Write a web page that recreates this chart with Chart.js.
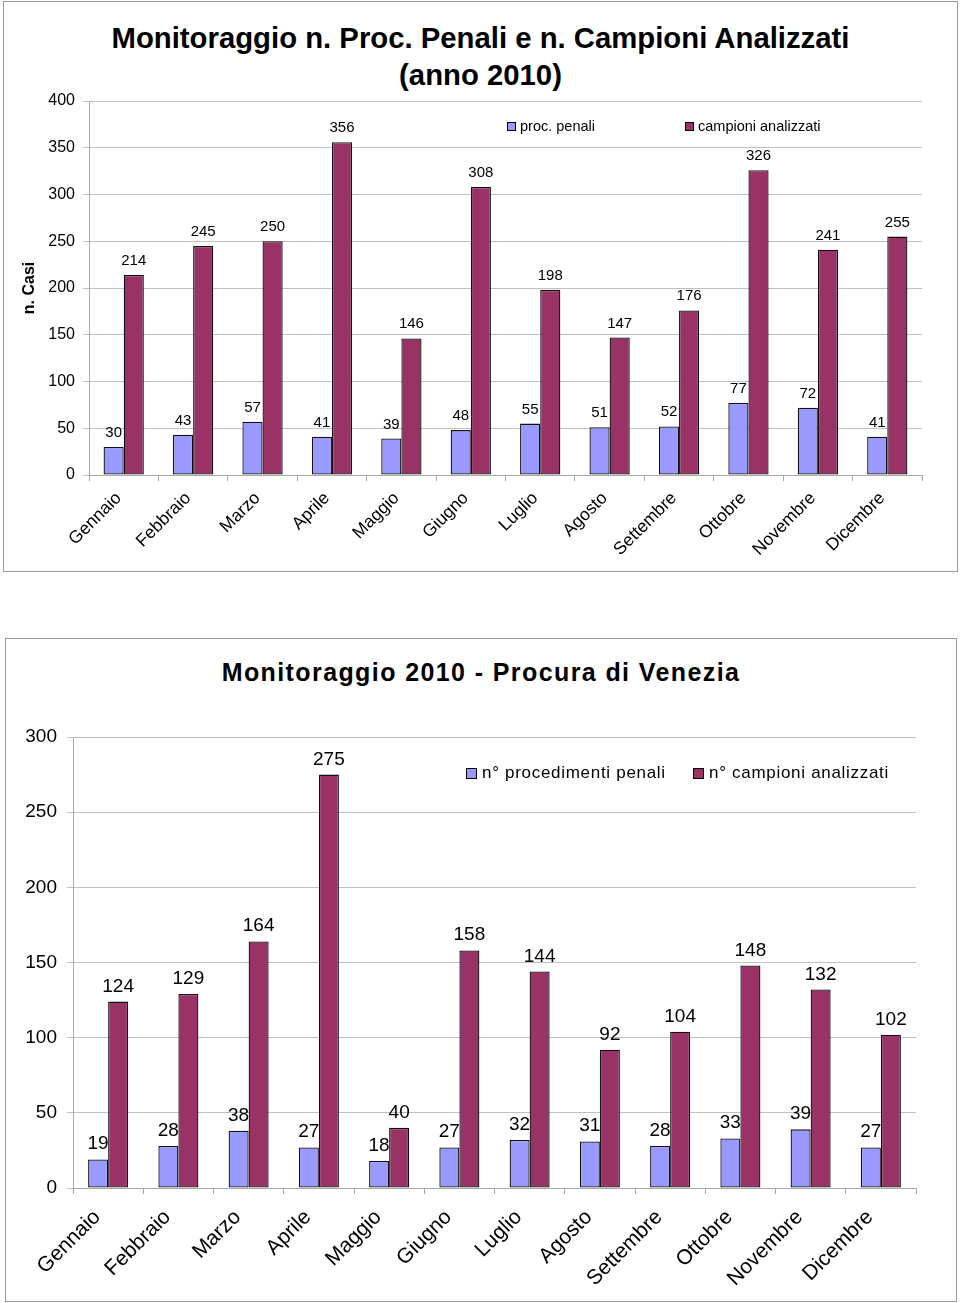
<!DOCTYPE html>
<html>
<head>
<meta charset="utf-8">
<script src="https://cdn.jsdelivr.net/npm/chart.js@4/dist/chart.umd.min.js"></script>
<style>
    body { margin: 0; background: #fff; font-family: "Liberation Sans", Arial, sans-serif; }
    .panel { position: absolute; border: 1px solid #9a9a9a; box-sizing: border-box; background: #fff; }
    .panel canvas { position: absolute; left: 0; top: 0; }
    .title { position: absolute; left: 0; right: 0; text-align: center; font-weight: bold; color: #000; }
    .legend-item { position: absolute; display: flex; align-items: center; white-space: nowrap; color: #000; }
    .swatch { display: inline-block; border: 1px solid #000; box-sizing: border-box; }
</style>
</head>
<body>

<div class="panel" id="panel1" style="left:3px; top:1px; width:955px; height:571px;">
    <div class="title" style="top:17px; font-size:29.3px; line-height:37px;">Monitoraggio n. Proc. Penali e n. Campioni Analizzati<br>(anno 2010)</div>
    <canvas id="chart1" width="953" height="569"></canvas>
</div>

<div class="panel" id="panel2" style="left:5px; top:638px; width:952px; height:664px;">
    <div class="title" style="top:18px; font-size:25px; line-height:30px; letter-spacing:1.4px;">Monitoraggio 2010 - Procura di Venezia</div>
    <canvas id="chart2" width="950" height="662"></canvas>
</div>

<script>
const months = ["Gennaio", "Febbraio", "Marzo", "Aprile", "Maggio", "Giugno",
    "Luglio", "Agosto", "Settembre", "Ottobre", "Novembre", "Dicembre"];

// grafico 1 - totale
const procPenali = [30, 43, 57, 41, 39, 48, 55, 51, 52, 77, 72, 41];
const campioniAnalizzati = [214, 245, 250, 356, 146, 308, 198, 147, 176, 326, 241, 255];

// grafico 2 - Procura di Venezia
const veneziaProc = [19, 28, 38, 27, 18, 27, 32, 31, 28, 33, 39, 27];
const veneziaCampioni = [124, 129, 164, 275, 40, 158, 144, 92, 104, 148, 132, 102];

const BLUE = "#9999ff";
const PLUM = "#993366";
const FONT = "'Liberation Sans', Arial, sans-serif";

const valueLabels = {
    id: "valueLabels",
    afterDatasetsDraw(chart, args, opts) {
        const ctx = chart.ctx;
        ctx.save();
        ctx.font = `${opts.size}px ${FONT}`;
        ctx.fillStyle = "#000";
        ctx.textAlign = "center";
        ctx.textBaseline = "alphabetic";
        chart.data.datasets.forEach((ds, i) => {
            chart.getDatasetMeta(i).data.forEach((bar, j) => {
                ctx.fillText(String(ds.data[j]), bar.x, bar.y - opts.offset);
            });
        });
        ctx.restore();
    }
};

function makeChart(id, cfg) {
    return new Chart(document.getElementById(id), {
        type: "bar",
        data: {
            labels: months,
            datasets: [
                { label: cfg.labels[0], data: cfg.series[0], backgroundColor: BLUE, borderColor: "#111", borderWidth: 1.3, borderSkipped: false },
                { label: cfg.labels[1], data: cfg.series[1], backgroundColor: PLUM, borderColor: "#111", borderWidth: 1.3, borderSkipped: false },
            ],
        },
        options: {
            responsive: false,
            animation: false,
            devicePixelRatio: 1,
            layout: { padding: { top: cfg.top, right: cfg.right, left: 0, bottom: 0 } },
            datasets: { bar: { categoryPercentage: cfg.catPct, barPercentage: 1 } },
            plugins: {
                legend: { display: false },
                tooltip: { enabled: false },
                valueLabels: { size: cfg.valueSize, offset: 10 },
            },
            scales: {
                x: {
                    afterFit: (s) => { s.height = cfg.xHeight; },
                    grid: { display: true, drawOnChartArea: false, drawTicks: true, tickLength: 6, color: "#a8a8a8" },
                    border: { color: "#a8a8a8" },
                    ticks: {
                        minRotation: 45, maxRotation: 45,
                        padding: cfg.xPad, labelOffset: cfg.xShift,
                        color: "#000", font: { family: FONT, size: cfg.xSize },
                    },
                },
                y: {
                    min: 0,
                    max: cfg.max,
                    afterFit: (s) => { s.width = cfg.yWidth; },
                    grid: { color: "#c0c0c0", tickLength: 6, drawTicks: true },
                    border: { color: "#a8a8a8" },
                    ticks: { stepSize: 50, padding: cfg.yPad, color: "#000", font: { family: FONT, size: cfg.ySize } },
                    title: cfg.yTitle
                        ? { display: true, text: cfg.yTitle, color: "#000", font: { family: FONT, size: 16, weight: "bold" }, padding: { top: 16, bottom: 0 } }
                        : { display: false },
                },
            },
        },
        plugins: [valueLabels],
    });
}

const chart1 = makeChart("chart1", {
    labels: ["proc. penali", "campioni analizzati"],
    series: [procPenali, campioniAnalizzati],
    max: 400, top: 99, right: 35, yWidth: 85, xHeight: 96,
    catPct: 0.58, valueSize: 15, xSize: 17.5, ySize: 16, yPad: 8, yTitle: "n. Casi",
    xPad: 7, xShift: -5,
});

const chart2 = makeChart("chart2", {
    labels: ["n° procedimenti penali", "n° campioni analizzati"],
    series: [veneziaProc, veneziaCampioni],
    max: 300, top: 98, right: 40, yWidth: 67, xHeight: 113,
    catPct: 0.57, valueSize: 19, xSize: 21, ySize: 19, yPad: 10, yTitle: null,
    xPad: 11, xShift: -11,
});

// legende dentro l'area del grafico, come nell'originale
function addLegend(panelId, chart, items) {
    const panel = document.getElementById(panelId);
    chart.data.datasets.forEach((ds, i) => {
        const it = items[i];
        const el = document.createElement("div");
        el.className = "legend-item";
        el.style.left = it.x + "px";
        el.style.top = it.y + "px";
        el.style.fontSize = it.size + "px";
        el.style.lineHeight = it.line + "px";
        el.style.letterSpacing = it.spacing + "px";
        const sw = document.createElement("span");
        sw.className = "swatch";
        sw.style.width = it.box + "px";
        sw.style.height = it.box + "px";
        sw.style.background = ds.backgroundColor;
        sw.style.marginRight = it.gap + "px";
        const txt = document.createElement("span");
        txt.textContent = ds.label;
        el.appendChild(sw);
        el.appendChild(txt);
        panel.appendChild(el);
    });
}

addLegend("panel1", chart1, [
    { x: 503, y: 115, size: 14.5, line: 18, box: 9, gap: 4, spacing: 0 },
    { x: 681, y: 115, size: 14.5, line: 18, box: 9, gap: 4, spacing: 0 },
]);
addLegend("panel2", chart2, [
    { x: 460, y: 123, size: 17, line: 22, box: 11, gap: 5, spacing: 0.7 },
    { x: 687, y: 123, size: 17, line: 22, box: 11, gap: 5, spacing: 0.7 },
]);
</script>
</body>
</html>
